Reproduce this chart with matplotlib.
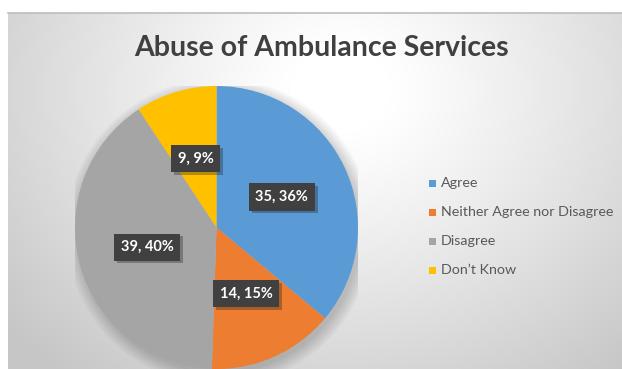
import numpy as np
import matplotlib
matplotlib.use("Agg")
import matplotlib.pyplot as plt
from matplotlib import patheffects
from matplotlib.patches import Rectangle, Circle

categories = ["Agree", "Neither Agree nor Disagree", "Disagree", "Don\u2019t Know"]
counts = [35, 14, 39, 9]
percents = [36, 15, 40, 9]
colors = ["#5B9BD5", "#ED7D31", "#A5A5A5", "#FFC000"]
title = "Abuse of Ambulance Services"

plt.rcParams["font.family"] = ["Lato", "DejaVu Sans"]

W, H = 622, 369
fig = plt.figure(figsize=(W / 100, H / 100), dpi=100)
fig.patch.set_facecolor("white")

# chart panel with a soft radial gradient
x0, ytop = 8, 13
bg = fig.add_axes([x0 / W, 0, 1 - x0 / W, 1 - ytop / H])
bg.set_axis_off()
yy, xx = np.mgrid[ytop:H, x0:W].astype(float)
gx, gy = 340, 90
d = np.sqrt((xx - gx) ** 2 + ((yy - gy) / 0.85) ** 2)
t = np.clip((d - 50) / 380, 0, 1)
v = 1 - 0.22 * t ** 1.1
bg.imshow(np.dstack([v, v, v]), extent=[0, 1, 0, 1], aspect="auto",
          origin="upper", interpolation="bilinear")
bg.set_xlim(0, 1)
bg.set_ylim(0, 1)
fig.add_artist(plt.Line2D([x0 / W, 1], [1 - ytop / H] * 2,
                          color="#bdbdbd", lw=1.2))

# pie
cxp, cyp, R = 216.5, 227.5, 141.5
pax = fig.add_axes([(cxp - R) / W, (H - cyp - R) / H, 2 * R / W, 2 * R / H])
# soft shadow under the pie
for k in range(8):
    pax.add_patch(Circle((0.02, -0.03), 1.0 + 0.012 * k, color="black",
                         alpha=0.025, lw=0, zorder=0))
wedges, _ = pax.pie(counts, colors=colors, startangle=90, counterclock=False,
                    radius=1, wedgeprops=dict(linewidth=0))
pax.set_xlim(-1, 1)
pax.set_ylim(-1, 1)
pax.set_axis_off()

for w, n, p in zip(wedges, counts, percents):
    ang = np.deg2rad((w.theta1 + w.theta2) / 2)
    x, y = 0.51 * np.cos(ang), 0.51 * np.sin(ang)
    txt = pax.text(x, y, f"{n}, {p}%", ha="center", va="center",
                   fontsize=10.5, fontweight="bold", color="white",
                   bbox=dict(boxstyle="square,pad=0.45", fc="#404040",
                             ec="none"))
    txt.get_bbox_patch().set_path_effects(
        [patheffects.SimplePatchShadow(offset=(2, -2), alpha=0.3),
         patheffects.Normal()])

# title
fig.text(321 / W, 1 - 48 / H, title, ha="center", va="center",
         fontsize=20.5, fontweight="bold", color="#404040")

# legend
for i, (cat, col) in enumerate(zip(categories, colors)):
    yc = 183 + 29 * i
    fig.add_artist(Rectangle((429 / W, 1 - (yc + 3.5) / H), 7 / W, 7 / H,
                             transform=fig.transFigure, fc=col, ec="none"))
    fig.text(441 / W, 1 - yc / H, cat, ha="left", va="center",
             fontsize=10.3, color="#595959")

fig.savefig("out.png", dpi=100, facecolor=fig.get_facecolor())
